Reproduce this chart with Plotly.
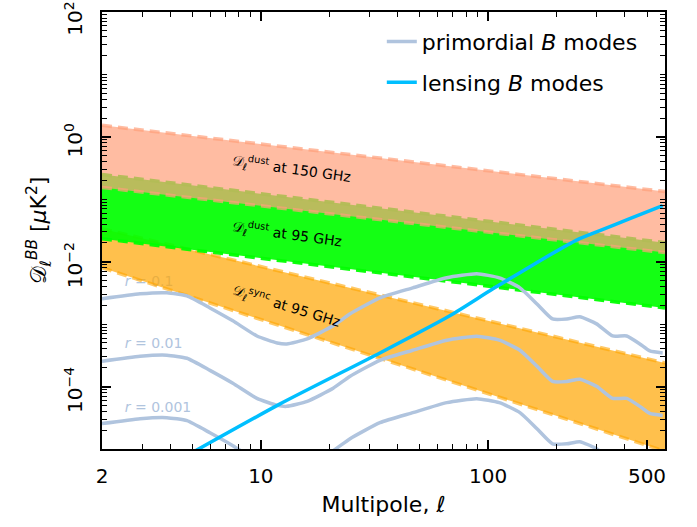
import numpy as np
import plotly.graph_objects as go

# ---------------- data ----------------
ell_band = [2, 600]
dust150_hi = [1.53, 0.133]
dust150_lo = [0.155, 0.014]
dust95_hi = [0.25, 0.0202]
dust95_lo = [0.0234, 0.00182]
sync95_hi = [0.0339, 2.39e-4]
sync95_lo = [0.0080, 9.2e-6]

# primordial BB template for r = 0.1
ell_prim = [2, 2.94, 3.86, 4.73, 5.97, 7.53, 9.61, 11.8, 13.0, 16.0, 20.8, 24.6,
            33.4, 46.6, 65.8, 89.1, 112, 138, 164, 192, 222, 253, 300, 353, 407,
            465, 514, 586]
prim_r01 = [2.55e-3, 3.06e-3, 3.18e-3, 2.84e-3, 1.82e-3, 1.13e-3, 6.47e-4, 5.0e-4,
            4.82e-4, 5.8e-4, 9.4e-4, 1.45e-3, 2.64e-3, 3.82e-3, 5.53e-3, 6.41e-3,
            5.53e-3, 3.82e-3, 2.11e-3, 1.21e-3, 1.21e-3, 1.31e-3, 1.01e-3, 6.47e-4,
            6.47e-4, 4.82e-4, 3.72e-4, 3.45e-4]
r_values = [0.1, 0.01, 0.001]
r_labels = ["0.1", "0.01", "0.001"]

# lensing BB
ell_lens = [5.0, 12.1, 33.4, 67.8, 105, 181, 245, 310, 420, 586]
lens = [8.8e-6, 5.24e-5, 3.45e-4, 1.36e-3, 3.68e-3, 0.0120, 0.0222, 0.0315, 0.0491, 0.0794]

# axis ticks
x_tickvals = [2, 10, 100, 500]
x_ticktext = ["2", "10", "100", "500"]
y_tickvals = [1e-4, 1e-2, 1e0, 1e2]
NB = "\u00a0\u00a0"
y_ticktext = ["10<sup>\u22124</sup>" + NB, "10<sup>\u22122</sup>" + NB,
              "10<sup>0</sup>" + NB, "10<sup>2</sup>" + NB + "\u00a0"]

FONT = "DejaVu Sans"
PRIM_COL = "rgb(176,196,222)"
LENS_COL = "rgb(0,191,255)"

fig = go.Figure()

# r labels (drawn first so the bands lie over them, as in the reference)
r_pos = [4.6e-3, 4.8e-4, 4.5e-5]
fig.add_trace(go.Scatter(x=[2.52] * 3, y=r_pos, mode="text",
                         text=[f"<i>r</i> = {lab}" for lab in r_labels],
                         textposition="middle right",
                         textfont=dict(family=FONT, size=14, color=PRIM_COL),
                         hoverinfo="skip", showlegend=False))


def add_band(lo, hi, rgb, alpha, line_alpha):
    fill = f"rgba({rgb[0]},{rgb[1]},{rgb[2]},{alpha})"
    lcol = f"rgba({rgb[0]},{rgb[1]},{rgb[2]},{line_alpha})"
    fig.add_trace(go.Scatter(x=ell_band + ell_band[::-1], y=hi + lo[::-1],
                             fill="toself", fillcolor=fill, mode="lines",
                             line=dict(width=0), hoverinfo="skip", showlegend=False))
    for edge in (hi, lo):
        fig.add_trace(go.Scatter(x=ell_band, y=edge, mode="lines",
                                 line=dict(color=lcol, width=3.5, dash="10px,6px"),
                                 hoverinfo="skip", showlegend=False))


add_band(sync95_lo, sync95_hi, (255, 165, 0), 0.7, 0.6)
add_band(dust95_lo, dust95_hi, (0, 255, 0), 0.92, 0.95)
add_band(dust150_lo, dust150_hi, (255, 160, 122), 0.7, 0.7)

for i, r in enumerate(r_values):
    fig.add_trace(go.Scatter(x=ell_prim, y=[v * r / 0.1 for v in prim_r01], mode="lines",
                             line=dict(color=PRIM_COL, width=3.5, shape="spline", smoothing=0.5),
                             name="primordial <i>B</i> modes", legendgroup="prim",
                             showlegend=(i == 0)))

fig.add_trace(go.Scatter(x=ell_lens, y=lens, mode="lines",
                         line=dict(color=LENS_COL, width=3.5, shape="spline", smoothing=0.6),
                         name="lensing <i>B</i> modes", legendgroup="lens"))

# invisible carrier trace so the mirrored tick axes (top / right) are drawn
fig.add_trace(go.Scatter(x=[None], y=[None], xaxis="x2", yaxis="y2",
                         showlegend=False, hoverinfo="skip"))

# band labels
band_text = [
    (13.7, 0.31, "\U0001D49F<sub>\u2113</sub><sup>dust</sup> at 150 GHz", 8),
    (13.0, 0.0282, "\U0001D49F<sub>\u2113</sub><sup>dust</sup> at 95 GHz", 8),
    (13.0, 1.96e-3, "\U0001D49F<sub>\u2113</sub><sup>sync</sup> at 95 GHz", 17),
]
for xl, yl, t, ang in band_text:
    fig.add_annotation(x=np.log10(xl), y=np.log10(yl), text=t, textangle=ang,
                       showarrow=False, font=dict(family=FONT, size=14, color="black"))

x_minor = [v for d in (1, 10, 100) for v in [k * d for k in range(2, 10)]
           if 2 < v <= 600 and v not in x_tickvals]
y_minor = [k * 10.0 ** d for d in range(-5, 2) for k in range(1, 10)
           if (k * 10.0 ** d) not in y_tickvals]

XRANGE = [np.log10(2), np.log10(600)]
YRANGE = [-5, 2.0005]

tick_common = dict(ticks="inside", tickwidth=1.5, tickcolor="black",
                   showgrid=False, zeroline=False, automargin=False)

fig.update_layout(
    width=697, height=527,
    margin=dict(l=102, r=32, t=12, b=78),
    paper_bgcolor="white", plot_bgcolor="white",
    font=dict(family=FONT, size=20, color="black"),
    legend=dict(x=0.497, y=0.98, xanchor="left", yanchor="top",
                bgcolor="rgba(0,0,0,0)", font=dict(family=FONT, size=22),
                tracegroupgap=9, traceorder="grouped"),
    xaxis=dict(type="log", range=XRANGE,
               tickvals=x_tickvals, ticktext=x_ticktext, ticklen=9,
               showline=True, linecolor="black", linewidth=2, mirror=True,
               ticklabelstandoff=8, tickfont=dict(family=FONT, size=20),
               minor=dict(tickvals=x_minor, ticks="inside", ticklen=5, tickwidth=1.2,
                          tickcolor="black", showgrid=False),
               title=dict(text="Multipole, <i>\u2113</i>", font=dict(family=FONT, size=22),
                          standoff=10),
               **tick_common),
    yaxis=dict(type="log", range=YRANGE,
               tickvals=y_tickvals, ticktext=y_ticktext, tickangle=-90, ticklen=9,
               showline=True, linecolor="black", linewidth=2, mirror=True,
               ticklabelstandoff=10, tickfont=dict(family=FONT, size=20),
               ticklabeloverflow="allow",
               minor=dict(tickvals=y_minor, ticks="inside", ticklen=5, tickwidth=1.2,
                          tickcolor="black", showgrid=False),
               title=dict(text="\U0001D49F<sub>\u2113</sub><sup><i>BB</i></sup> [<i>\u03bc</i>K<sup>2</sup>]",
                          font=dict(family=FONT, size=22), standoff=8),
               **tick_common),
    xaxis2=dict(type="log", range=XRANGE, overlaying="x", side="top",
                tickvals=[10, 100], ticklen=9, showticklabels=False, showline=False,
                minor=dict(tickvals=x_minor + [500], ticks="inside", ticklen=5, tickwidth=1.2,
                           tickcolor="black", showgrid=False),
                **tick_common),
    yaxis2=dict(type="log", range=YRANGE, overlaying="y", side="right",
                tickvals=y_tickvals, ticklen=9, showticklabels=False, showline=False,
                minor=dict(tickvals=y_minor, ticks="inside", ticklen=5, tickwidth=1.2,
                           tickcolor="black", showgrid=False),
                **tick_common),
)

fig.write_html("out.html", config={"displayModeBar": False},
               post_script="document.body.style.margin='0px';")
